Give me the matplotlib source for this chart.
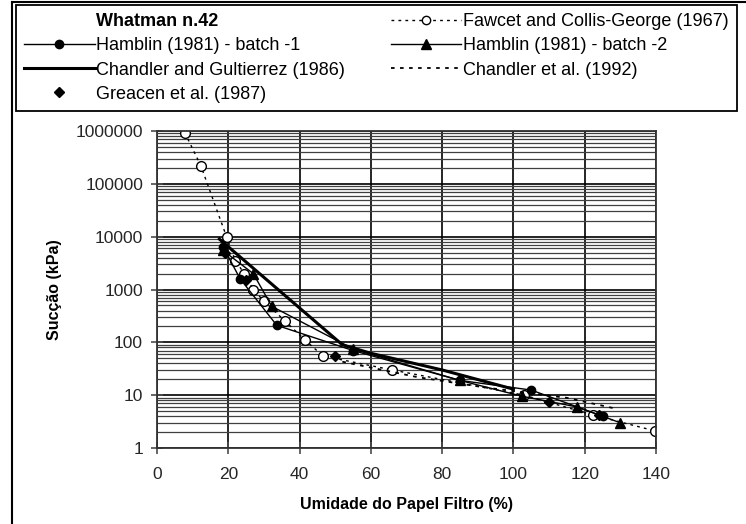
import numpy as np
import matplotlib
matplotlib.use('Agg')
import matplotlib.pyplot as plt
from matplotlib.lines import Line2D
from matplotlib.ticker import FixedLocator, LogLocator, FuncFormatter, NullFormatter

plt.rcParams['font.family'] = ['Liberation Sans', 'DejaVu Sans']

# dados (umidade %, succao kPa)
fawcet_w = [7.8, 12.3, 19.5, 22, 24.5, 27, 30, 36, 41.5, 46.6, 66, 103, 122.4, 139.8]
fawcet_s = [930000, 220000, 10000, 3500, 2000, 1000, 600, 250, 111, 55, 30, 10, 4.2, 2.1]

hamb1_w = [18.5, 23.3, 33.6, 55, 85, 105, 125]
hamb1_s = [6500, 1600, 210, 70, 19, 12.5, 4]

hamb2_w = [18.5, 27, 32.2, 55, 85, 102.5, 117.8, 130]
hamb2_s = [5500, 2000, 480, 75, 19, 9.5, 6, 3]

cg86_w = [17.5, 52, 60, 80, 100]
cg86_s = [9000, 90, 62, 30, 13]

chand92_w = [52, 73, 92, 115, 128]
chand92_s = [43, 22, 14, 8.9, 5.7]

greacen_w = [19, 25, 50, 110, 124]
greacen_s = [5000, 1500, 55, 7.5, 4.2]

xticks = [0, 20, 40, 60, 80, 100, 120, 140]
yticks = [1, 10, 100, 1000, 10000, 100000, 1000000]

fig = plt.figure(figsize=(7.46, 5.24), dpi=100)
ax = fig.add_axes([157/746, 1-448/524, (656-157)/746, (448-131)/524])

dot = (0, (2, 3))
ax.plot(fawcet_w, fawcet_s, linestyle=dot, color='black', lw=1, marker='o',
        mfc='white', mec='black', ms=7, mew=1)
ax.plot(hamb1_w, hamb1_s, '-', color='black', lw=1, marker='o', ms=6)
ax.plot(hamb2_w, hamb2_s, '-', color='black', lw=1, marker='^', ms=7)
ax.plot(cg86_w, cg86_s, '-', color='black', lw=2.2)
ax.plot(chand92_w, chand92_s, linestyle=dot, color='black', lw=1.3)
ax.plot(greacen_w, greacen_s, 'D', color='black', ms=5, ls='none')

ax.set_yscale('log')
ax.set_xlim(0, 140)
ax.set_ylim(1, 1000000)
ax.xaxis.set_major_locator(FixedLocator(xticks))
ax.yaxis.set_major_locator(FixedLocator(yticks))
ax.yaxis.set_major_formatter(FuncFormatter(lambda v, p: '%d' % v))
ax.yaxis.set_minor_locator(LogLocator(base=10, subs=np.arange(2, 10)))
ax.yaxis.set_minor_formatter(NullFormatter())

ax.grid(True, which='major', axis='both', color='black', lw=1.2)
ax.grid(True, which='minor', axis='y', color='0.25', lw=0.9)
ax.set_axisbelow(True)
ax.tick_params(axis='both', which='major', direction='inout', length=8,
               labelsize=12.5, width=1.2, color='0.3', labelcolor='0.15')
ax.tick_params(axis='x', which='major', pad=10)
ax.tick_params(axis='y', which='major', pad=6)
ax.tick_params(axis='y', which='minor', length=0)
for s in ax.spines.values():
    s.set_color('0.2')
    s.set_linewidth(1.3)

ax.set_xlabel('Umidade do Papel Filtro (%)', fontsize=11.5, fontweight='bold')
ax.set_ylabel('Sucção (kPa)', fontsize=11.5, fontweight='bold')
ax.xaxis.set_label_coords(0.5, -0.155)
ax.yaxis.set_label_coords(-0.19, 0.5)

handles = [
    Line2D([], [], color='none'),
    Line2D([], [], color='black', lw=1, marker='o', ms=6),
    Line2D([], [], color='black', lw=2.2),
    Line2D([], [], color='black', marker='D', ms=5, ls='none'),
    Line2D([], [], color='black', lw=1, linestyle=dot, marker='o', mfc='white', ms=6),
    Line2D([], [], color='black', lw=1, marker='^', ms=7),
    Line2D([], [], color='black', lw=1.3, linestyle=dot),
]
labels = ['Whatman n.42', 'Hamblin (1981) - batch -1', 'Chandler and Gultierrez (1986)',
          'Greacen et al. (1987)', 'Fawcet and Collis-George (1967)',
          'Hamblin (1981) - batch -2', 'Chandler et al. (1992)']
leg = fig.legend(handles, labels, ncol=2, loc='upper left', mode='expand',
                 bbox_to_anchor=(16/746, 1-106/524, 721/746, 101/524),
                 borderaxespad=0, fontsize=13, handlelength=3.9, handletextpad=0.1,
                 labelspacing=0.4, fancybox=False, edgecolor='black', framealpha=1,
                 borderpad=0.45)
leg.get_frame().set_linewidth(1.3)
leg.get_texts()[0].set_fontweight('bold')

# moldura externa
fig.add_artist(Line2D([12/746, 12/746], [0, 1-2/524], color='black', lw=1.5))
fig.add_artist(Line2D([12/746, 1], [1-2/524, 1-2/524], color='black', lw=1.5))

fig.savefig('out.png', dpi=100)
